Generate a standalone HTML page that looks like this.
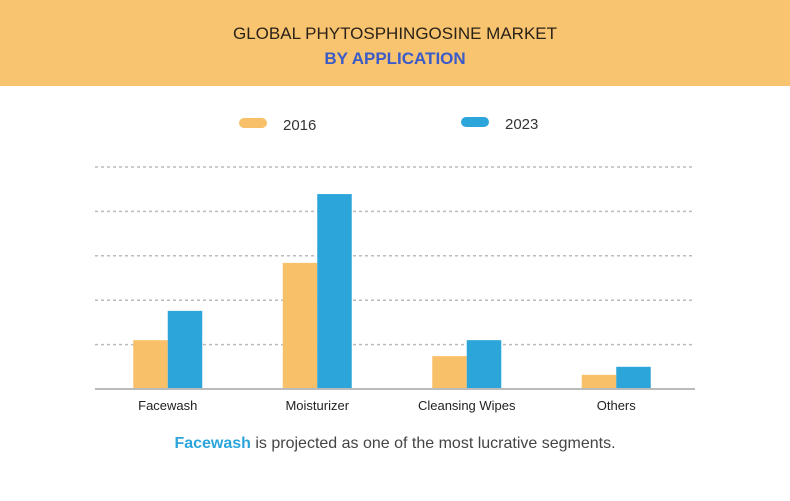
<!DOCTYPE html>
<html><head><meta charset="utf-8"><style>
body{margin:0;width:790px;height:496px;background:#fff;overflow:hidden;font-family:"Liberation Sans",sans-serif}
</style></head><body>
<svg width="790" height="496">
<rect x="0" y="0" width="790" height="86" fill="#F9C470"/>
<text x="395" y="39" text-anchor="middle" font-size="17" fill="#2a2218">GLOBAL PHYTOSPHINGOSINE MARKET</text>
<text x="395" y="64" text-anchor="middle" font-size="17" font-weight="bold" fill="#3a5bc8">BY APPLICATION</text>
<g><rect x="239" y="118" width="28" height="10" rx="5" fill="#F9C06A"/><text x="283" y="130" font-size="15" fill="#333">2016</text></g>
<g><rect x="461" y="117" width="28" height="10" rx="5" fill="#2CA5DA"/><text x="505" y="129" font-size="15" fill="#333">2023</text></g>
<g id="grid"></g><g id="bars"></g><g id="xlabels"></g>
<line x1="95" y1="389" x2="695" y2="389" stroke="#bbb" stroke-width="2"/>
<text x="395" y="448" text-anchor="middle" font-size="16" fill="#444"><tspan font-weight="bold" fill="#2CA5DA">Facewash</tspan> is projected as one of the most lucrative segments.</text>
</svg>
<script>
const categories=["Facewash","Moisturizer","Cleansing Wipes","Others"];
const values2016=[1.10,2.84,0.74,0.32];
const values2023=[1.76,4.39,1.10,0.50];
const gridTicks=[1,2,3,4,5];
const ns="http://www.w3.org/2000/svg";
const y0=389,pxPerUnit=44.4,x0=95,catW=149.5,barW=34.5;
const y=v=>y0-v*pxPerUnit;
const cx=i=>x0+catW*(i+0.5)-2;
function mk(t,a,p){const e=document.createElementNS(ns,t);for(const k in a)e.setAttribute(k,a[k]);p.appendChild(e);return e;}
const g=document.getElementById('grid');
gridTicks.forEach(t=>{const l=mk('line',{x1:95,x2:695,y1:y(t),y2:y(t),stroke:'#bbb','stroke-width':1.5,'stroke-dasharray':'3,3'},g);

});
const b=document.getElementById('bars'),xl=document.getElementById('xlabels');
categories.forEach((c,i)=>{
const r1=mk('rect',{x:cx(i)-barW,y:y(values2016[i]),width:barW,height:values2016[i]*pxPerUnit,fill:'#F9C06A'},b);


const r2=mk('rect',{x:cx(i),y:y(values2023[i]),width:barW,height:values2023[i]*pxPerUnit,fill:'#2CA5DA'},b);


const t=mk('text',{x:cx(i),y:410,'text-anchor':'middle','font-size':13,fill:'#222'},xl);t.textContent=c;


});
</script>
</body></html>
